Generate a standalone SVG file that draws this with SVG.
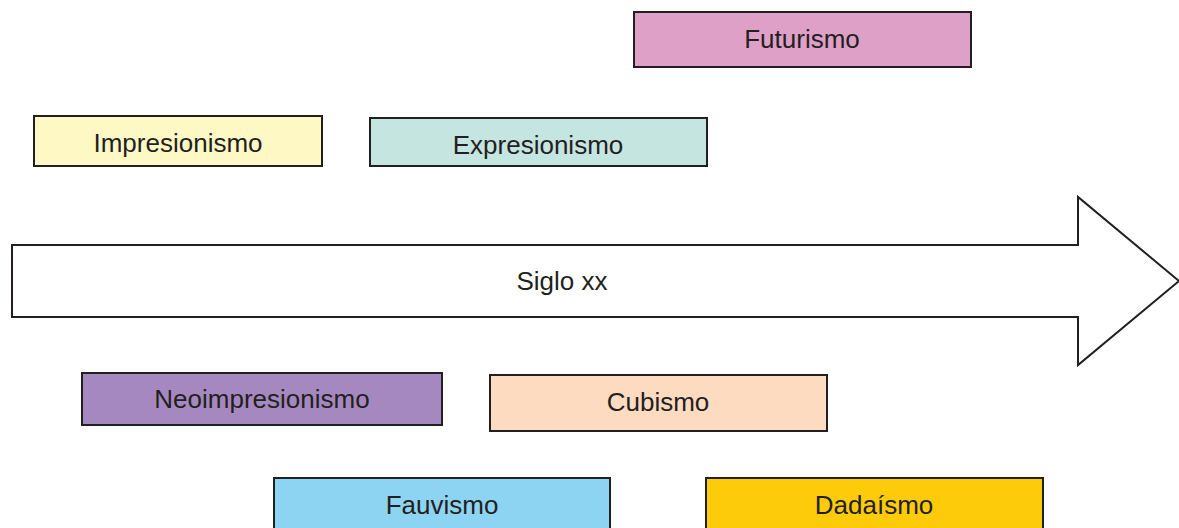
<svg xmlns="http://www.w3.org/2000/svg" width="1179" height="528" viewBox="0 0 1179 528">
<style>
.box{stroke:#231f20;stroke-width:2}
.lbl{font-family:"Liberation Sans",Arial,sans-serif;font-size:26px;fill:#231f20;text-anchor:middle}
</style>
<rect width="1179" height="528" fill="#ffffff"/>
<g id="connectors">
<path d="M12,245 H1078 V197 L1179,281 L1078,365 V317 H12 Z" fill="#ffffff" stroke="#231f20" stroke-width="2"/>
<text class="lbl" x="562" y="290">Siglo xx</text>
</g>
<g id="futurismo"><rect class="box" x="634" y="12" width="337" height="55" fill="#dfa0c8"/><text class="lbl" x="802" y="48">Futurismo</text></g>
<g id="impresionismo"><rect class="box" x="34" y="116" width="288" height="50" fill="#fef8c5"/><text class="lbl" x="178" y="152">Impresionismo</text></g>
<g id="expresionismo"><rect class="box" x="370" y="118" width="337" height="48" fill="#c5e5e0"/><text class="lbl" x="538" y="154">Expresionismo</text></g>
<g id="neoimpresionismo"><rect class="box" x="82" y="373" width="360" height="52" fill="#a688c0"/><text class="lbl" x="262" y="408">Neoimpresionismo</text></g>
<g id="cubismo"><rect class="box" x="490" y="375" width="337" height="56" fill="#fddbc1"/><text class="lbl" x="658" y="411">Cubismo</text></g>
<g id="fauvismo"><rect class="box" x="274" y="478" width="336" height="60" fill="#8dd4f2"/><text class="lbl" x="442" y="514">Fauvismo</text></g>
<g id="dadaismo"><rect class="box" x="706" y="478" width="337" height="60" fill="#fecb0b"/><text class="lbl" x="874" y="514">Dadaísmo</text></g>
</svg>
